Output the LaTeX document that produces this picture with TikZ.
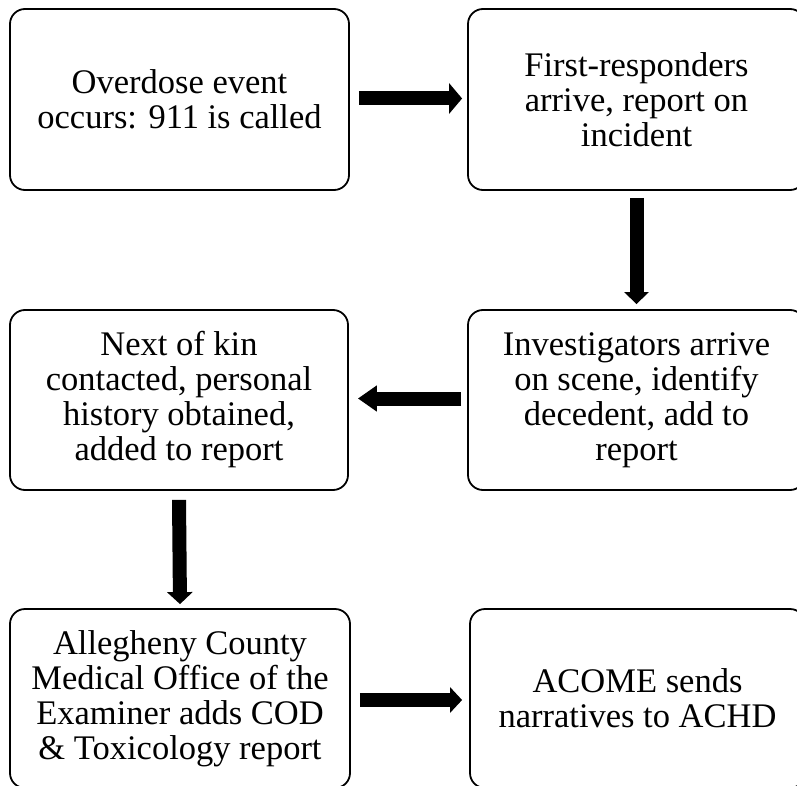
\documentclass[tikz,border=0pt]{standalone}
\usepackage{fontspec}
\setmainfont{Liberation Serif}
\usetikzlibrary{arrows.meta}
\tikzset{
  stepbox/.style={draw=black, line width=1.8pt, rounded corners=15pt, rectangle,
    inner sep=0pt, align=center, font=\fontsize{34.5}{35}\selectfont},
  blockarrow/.style={line width=14pt, -{Triangle[length=13pt, width=30pt]}},
  blockarrowb/.style={line width=14pt, -{Triangle[length=19pt, width=25pt]}},
}
\begin{document}
\begin{tikzpicture}[x=1pt, y=-1pt]
\useasboundingbox (0,0) rectangle (797,786);
\clip (0,0) rectangle (797,786);
\node[stepbox, minimum width=339pt, minimum height=181pt] (b1) at (179.5,99.5)
  {Overdose event\\occurs: 911 is called};
\node[stepbox, minimum width=337pt, minimum height=181pt] (b2) at (636.5,99.5)
  {First-responders\\arrive, report on\\incident};
\node[stepbox, minimum width=338pt, minimum height=180pt] (b3) at (179,400)
  {Next of kin\\contacted, personal\\history obtained,\\added to report};
\node[stepbox, minimum width=337pt, minimum height=180pt] (b4) at (636.5,400)
  {Investigators arrive\\on scene, identify\\decedent, add to\\report};
\node[stepbox, minimum width=340pt, minimum height=179pt] (b5) at (180,698.5)
  {Allegheny County\\Medical Office of the\\Examiner adds COD\\\& Toxicology report};
\node[stepbox, minimum width=335pt, minimum height=179pt] (b6) at (637.5,698.5)
  {ACOME sends\\narratives to ACHD};
\draw[blockarrow] ([xshift=9pt,yshift=1pt]b1.east) -- ([xshift=-5pt,yshift=1pt]b2.west);
\draw[blockarrow, -{Triangle[length=12pt, width=24pt]}] ([yshift=-7pt]b2.south) -- ([yshift=5pt]b4.north);
\draw[blockarrowb] ([xshift=-6pt,yshift=1.5pt]b4.west) -- ([xshift=9pt,yshift=1.5pt]b3.east);
\draw[blockarrow, -{Triangle[length=12pt, width=25pt]}] ([yshift=-9pt]b3.south) -- ([yshift=4pt]b5.north);
\draw[blockarrow, -{Triangle[length=12pt, width=25pt]}] ([xshift=9pt,yshift=-1.5pt]b5.east) -- ([xshift=-7pt,yshift=-1.5pt]b6.west);
\end{tikzpicture}
\end{document}
